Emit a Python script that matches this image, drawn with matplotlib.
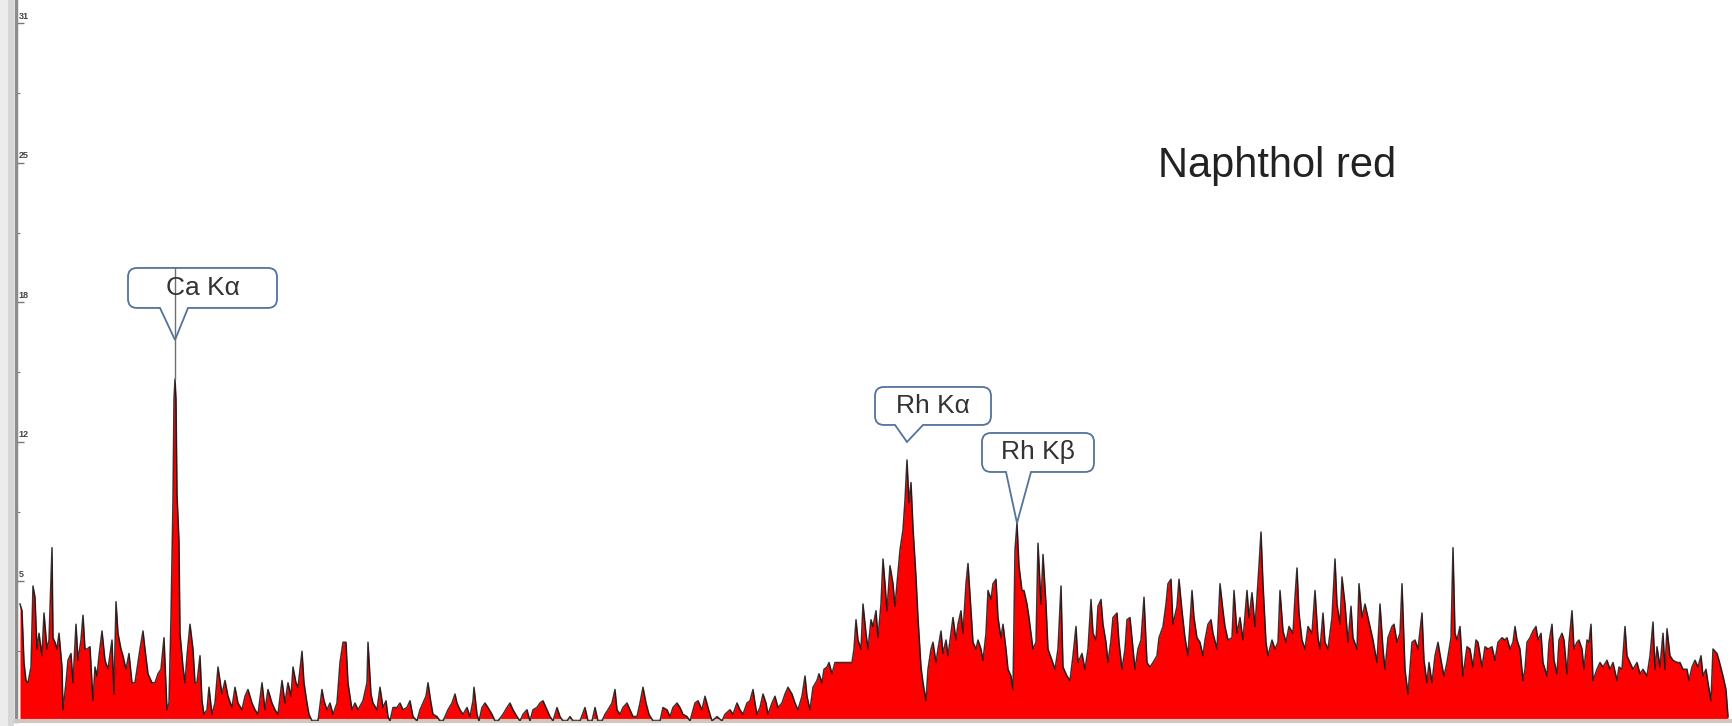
import numpy as np
import matplotlib
matplotlib.use("Agg")
import matplotlib.pyplot as plt
from matplotlib.path import Path
from matplotlib.patches import PathPatch, Rectangle
from matplotlib.lines import Line2D
from matplotlib.transforms import IdentityTransform

plt.rcParams['font.family'] = ['Liberation Sans', 'DejaVu Sans']

# XRF spectrum (channel, counts) in five stretches
ch_a = [20, 22, 24, 26, 28, 31, 33, 35, 37, 39, 42, 44, 47, 49, 52, 53, 55, 57, 59, 62,
        63, 66, 68, 71, 73, 76, 78, 81, 83, 85, 87, 90, 93, 95, 97, 99, 102, 105, 108, 112,
        114, 116, 118, 121, 123, 126, 129, 132, 135, 137, 140, 143, 145, 148, 152, 155, 158, 161, 164, 167,
        169, 171, 173, 174, 175, 176, 177, 179, 180, 183, 185, 187, 190, 193, 195, 197, 200, 202, 204, 207,
        209, 212, 215, 218, 222, 225, 228, 232, 235, 238, 242, 245, 248, 252, 255, 258, 262, 265, 268, 272,
        275, 278, 282, 285, 288, 291, 293, 296, 298, 302, 304, 307, 309, 312, 315, 318, 322, 324, 327, 330,
        333, 337, 340, 343, 346, 348]
cnt_a = [5.2, 4.9, 2.6, 1.8, 1.7, 2.4, 6.0, 5.5, 3.2, 3.9, 2.9, 4.8, 3.2, 3.6, 7.7, 3.7, 3.5, 3.2, 3.9, 2.4,
         0.5, 1.7, 2.7, 3.0, 1.7, 4.3, 2.7, 3.6, 4.7, 3.2, 3.2, 3.3, 0.9, 2.4, 2.0, 2.9, 4.0, 2.7, 2.3, 3.6,
         1.2, 5.3, 3.9, 3.2, 2.9, 2.3, 3.0, 1.7, 1.7, 2.3, 3.2, 4.0, 3.2, 2.1, 1.7, 1.7, 2.1, 2.3, 3.7, 0.5,
         0.8, 4.6, 9.8, 14.3, 15.2, 14.3, 10.1, 8.0, 3.9, 2.4, 1.7, 2.9, 4.3, 3.2, 1.7, 1.7, 2.9, 0.9, 0.3, 0.5,
         1.5, 0.3, 0.8, 2.4, 1.2, 1.8, 1.1, 0.6, 1.5, 0.8, 0.5, 1.1, 1.4, 0.8, 0.5, 0.3, 1.7, 0.5, 1.4, 0.8,
         0.5, 0.3, 1.8, 0.8, 1.7, 1.1, 2.4, 1.7, 1.5, 3.1, 1.7, 0.8, 0.3, 0, 0, 0, 1.4, 0.9, 0.5, 0.8,
         0.3, 0.8, 2.6, 3.5, 3.5, 1.7]

ch_b = [352, 355, 358, 363, 367, 368, 371, 373, 377, 380, 383, 386, 388, 390, 393, 397, 400, 403, 407, 410,
        413, 417, 420, 423, 426, 428, 431, 433, 437, 440, 443, 448, 452, 455, 457, 460, 463, 467, 470, 473,
        474, 477, 479, 482, 485, 488, 492, 495, 498, 503, 507, 510, 513, 517, 520, 523, 527, 530, 533, 537,
        540, 543, 547, 550, 553, 557, 560, 563, 567, 570, 573, 577, 580, 585, 588, 592, 595, 598, 602, 605,
        608, 612, 615, 617, 620, 623, 627, 630, 633, 637, 640, 643, 646, 649, 653, 657, 660, 663, 667, 670,
        673, 677, 680, 683, 687]
cnt_b = [0.5, 0.8, 0.5, 0.9, 1.7, 3.5, 1.2, 0.8, 0.5, 1.5, 0.6, 0.9, 0.2, 0, 0.6, 0.6, 0.8, 0.5, 0.6, 0.9,
         0.2, 0, 0.5, 0.8, 1.1, 1.7, 0.8, 0.3, 0.2, 0, 0, 0.5, 0.8, 1.2, 0.8, 0.5, 0.3, 0.6, 0.2, 0.9,
         1.5, 0.3, 0, 0.6, 0.8, 0.6, 0.3, 0, 0, 0.3, 0.6, 0.8, 0.5, 0.2, 0, 0.3, 0.5, 0, 0.5, 0.6,
         0.8, 0.9, 0.5, 0.2, 0, 0.6, 0.2, 0, 0, 0.2, 0, 0, 0, 0.6, 0, 0, 0.6, 0, 0, 0.3,
         0.5, 0.8, 1.4, 0.5, 0.3, 0.6, 0.8, 0.5, 0.2, 0.2, 0.8, 1.5, 0.8, 0.3, 0, 0, 0, 0.6, 0.5, 0.2,
         0.6, 0.8, 0.6, 0.3, 0.2]

ch_c = [690, 695, 698, 702, 705, 708, 712, 717, 722, 725, 730, 733, 737, 740, 743, 747, 750, 753, 755, 757,
        760, 763, 766, 768, 772, 775, 778, 782, 785, 788, 792, 795, 798, 802, 805, 807, 810, 813, 817, 819,
        822, 824, 827, 829, 832, 835, 838, 842, 845, 848, 852, 854, 856, 858, 861, 863, 866, 868, 871, 873,
        876, 878, 881, 883, 885, 887, 890, 893, 895, 897, 900, 903, 905, 907, 909, 911, 913, 916, 918, 921,
        923, 926, 928, 931, 933, 936, 938, 941, 943, 946, 948, 951, 953, 956, 958, 961, 963, 966, 968, 971,
        973, 976, 978, 981, 983, 986, 988, 991, 993, 996, 998, 1001, 1003, 1006, 1008, 1011, 1013, 1015, 1017, 1019,
        1022, 1024, 1027, 1029]
cnt_c = [0, 0.8, 0.9, 0.5, 1.1, 0.6, 0, 0.2, 0, 0.3, 0.5, 0.3, 0.8, 0.5, 0.3, 0.8, 0.9, 1.4, 0.8, 0.3,
         0.6, 1.2, 0.8, 0.3, 0.8, 1.1, 0.6, 0.8, 1.2, 1.5, 1.2, 0.8, 0.5, 1.1, 2.0, 1.1, 0.5, 1.5, 1.8, 2.1,
         1.7, 2.3, 2.4, 2.6, 2.1, 2.6, 2.6, 2.6, 2.6, 2.6, 2.6, 3.2, 4.5, 3.6, 3.2, 5.2, 3.9, 3.2, 4.5, 4.2,
         4.9, 3.7, 5.2, 7.2, 6.1, 4.9, 6.9, 6.1, 5.1, 6.1, 7.6, 8.5, 9.8, 11.6, 9.7, 10.6, 8.6, 6.4, 4.6, 2.4,
         1.7, 0.9, 2.3, 3.2, 3.5, 2.6, 3.2, 4.0, 3.0, 3.6, 2.9, 3.9, 4.6, 3.6, 4.3, 4.9, 3.9, 6.1, 7.0, 4.9,
         3.5, 3.2, 3.6, 3.2, 2.7, 3.9, 5.8, 5.4, 6.1, 6.3, 4.6, 3.7, 4.3, 3.2, 2.3, 2.0, 1.4, 7.6, 8.8, 6.9,
         5.8, 5.8, 5.2, 4.6]

ch_d = [1033, 1036, 1038, 1041, 1043, 1046, 1048, 1052, 1055, 1058, 1061, 1063, 1067, 1070, 1073, 1076, 1078, 1082, 1085, 1088,
        1091, 1093, 1096, 1098, 1101, 1103, 1106, 1108, 1111, 1113, 1117, 1119, 1122, 1125, 1127, 1130, 1133, 1135, 1138, 1141,
        1144, 1147, 1150, 1153, 1157, 1159, 1163, 1166, 1168, 1171, 1173, 1177, 1179, 1182, 1185, 1188, 1192, 1194, 1197, 1200,
        1203, 1205, 1208, 1211, 1213, 1217, 1220, 1223, 1225, 1228, 1232, 1234, 1237, 1240, 1243, 1247, 1249, 1252, 1255, 1257,
        1259, 1261, 1263, 1266, 1268, 1272, 1275, 1278, 1280, 1283, 1286, 1289, 1293, 1295, 1297, 1299, 1302, 1305, 1308, 1312,
        1315, 1318, 1320, 1323, 1325, 1328, 1332, 1335, 1337, 1340, 1342, 1345, 1348, 1351, 1353, 1357, 1359, 1362, 1365, 1368]
cnt_d = [3.2, 3.5, 7.9, 5.2, 7.4, 5.2, 3.2, 2.7, 2.3, 3.2, 6.0, 2.4, 2.0, 1.8, 2.9, 4.2, 2.6, 3.0, 2.3, 3.2,
         5.4, 3.9, 3.6, 5.1, 5.4, 4.3, 3.5, 2.6, 3.6, 4.6, 4.8, 3.5, 2.3, 3.2, 4.5, 4.6, 3.2, 2.3, 3.2, 3.6,
         5.5, 2.6, 2.4, 2.6, 2.9, 3.7, 4.2, 5.2, 6.1, 6.3, 4.3, 5.1, 6.3, 4.9, 3.7, 2.9, 5.8, 4.6, 3.7, 3.5,
         2.9, 3.6, 4.3, 4.5, 3.9, 3.2, 6.1, 4.9, 4.2, 3.6, 3.7, 5.8, 3.9, 4.6, 3.6, 5.8, 4.6, 5.7, 4.2, 5.5,
         6.9, 8.4, 6.1, 3.5, 2.9, 3.6, 3.2, 3.5, 5.8, 4.0, 3.5, 4.2, 3.9, 5.5, 6.8, 4.8, 3.6, 3.2, 4.2, 3.9,
         5.8, 3.7, 3.2, 4.8, 3.5, 3.2, 4.6, 7.2, 5.2, 4.3, 6.4, 5.2, 3.5, 5.1, 3.7, 3.2, 6.1, 4.6, 5.2, 4.6]

ch_e = [1373, 1377, 1380, 1383, 1385, 1388, 1392, 1394, 1397, 1400, 1402, 1405, 1408, 1412, 1415, 1418, 1422, 1424, 1427, 1429,
        1432, 1435, 1438, 1441, 1444, 1447, 1451, 1453, 1455, 1457, 1460, 1463, 1467, 1470, 1473, 1476, 1478, 1482, 1485, 1488,
        1492, 1495, 1498, 1502, 1505, 1507, 1510, 1513, 1515, 1517, 1520, 1523, 1525, 1527, 1530, 1533, 1536, 1538, 1541, 1543,
        1547, 1549, 1552, 1554, 1557, 1559, 1562, 1564, 1567, 1569, 1572, 1574, 1577, 1579, 1582, 1584, 1587, 1589, 1591, 1593,
        1597, 1600, 1603, 1607, 1610, 1613, 1617, 1619, 1622, 1625, 1627, 1630, 1633, 1637, 1640, 1643, 1647, 1650, 1653, 1655,
        1657, 1660, 1663, 1665, 1667, 1670, 1673, 1677, 1680, 1683, 1687, 1689, 1692, 1695, 1698, 1701, 1703, 1706, 1708, 1711,
        1713, 1717, 1719, 1723, 1726, 1728]
cnt_e = [3.6, 2.6, 5.2, 3.2, 2.3, 3.7, 4.2, 4.3, 3.5, 3.9, 6.1, 2.3, 1.2, 3.5, 3.6, 3.2, 4.8, 2.7, 1.7, 2.6,
         1.7, 2.9, 3.5, 2.7, 2.0, 2.6, 3.7, 7.7, 3.9, 3.6, 4.2, 2.0, 3.3, 3.2, 2.4, 3.6, 3.5, 2.4, 3.3, 3.2,
         3.3, 2.7, 3.5, 3.7, 3.6, 3.7, 3.2, 3.5, 4.2, 3.6, 3.2, 1.8, 2.3, 3.5, 3.7, 4.0, 4.2, 3.6, 3.9, 2.6,
         2.0, 3.5, 4.3, 2.7, 2.1, 3.6, 3.9, 3.6, 2.1, 3.5, 4.9, 3.2, 3.5, 3.6, 3.2, 2.3, 3.6, 3.5, 4.3, 1.8,
         2.3, 2.6, 2.4, 2.7, 2.3, 2.6, 1.8, 2.4, 2.3, 4.2, 2.9, 2.6, 2.3, 2.6, 2.1, 2.3, 2.0, 2.9, 4.4, 2.3,
         3.3, 2.4, 3.9, 2.3, 4.1, 2.9, 2.7, 2.6, 2.6, 2.3, 2.3, 1.8, 2.4, 2.7, 2.4, 2.9, 2.0, 2.3, 1.7, 0.9,
         3.2, 3.0, 2.7, 2.0, 1.4, 0.2]

# peak labels
line_names = ['Ca Kα', 'Rh Kα', 'Rh Kβ']
line_ch = [175, 907, 1017]

# y axis labels as printed by the instrument software
tick_vals = [6.2, 12.4, 18.6, 24.8, 31.0]
tick_labels = ['5', '12', '18', '25', '31']

title = 'Naphthol red'

channels = np.array(ch_a + ch_b + ch_c + ch_d + ch_e)
counts = np.array(cnt_a + cnt_b + cnt_c + cnt_d + cnt_e)

W, H = 1732, 726
fig = plt.figure(figsize=(W / 100, H / 100), dpi=100)
fig.patch.set_facecolor('white')
ax = fig.add_axes([16 / W, 5 / H, 1 - 16 / W, 721 / H])
ax.set_xlim(16, 1732)
ax.set_ylim(0, 32.04)

ax.fill_between(channels, counts, 0, color='#ff0000', lw=0, zorder=2)
ax.plot(channels, counts, color='#111111', lw=1.1, alpha=0.85, zorder=3)

# axes frame like the instrument window
for side in ['top', 'right']:
    ax.spines[side].set_visible(False)
ax.spines['left'].set_color('#8c8c8c')
ax.spines['left'].set_linewidth(2.5)
ax.spines['bottom'].set_color('#cfc8c0')
ax.spines['bottom'].set_linewidth(3)
fig.patches.append(Rectangle((0, 0), 8 / W, 1, transform=fig.transFigure,
                             facecolor='#ececec', edgecolor='none', zorder=0))
fig.patches.append(Rectangle((8 / W, 0), 6 / W, 1, transform=fig.transFigure,
                             facecolor='#d6d6d6', edgecolor='none', zorder=0))

ax.set_xticks([])
ax.set_yticks(tick_vals)
ax.set_yticks([v - 3.1 for v in tick_vals], minor=True)
ax.tick_params(axis='y', which='both', direction='in', colors='#777777',
               labelleft=False)
ax.tick_params(axis='y', which='major', length=6, width=1)
ax.tick_params(axis='y', which='minor', length=3, width=0.8)
for v, lab in zip(tick_vals, tick_labels):
    ax.annotate(lab, xy=(0, v), xycoords=('axes fraction', 'data'),
                xytext=(2, 2), textcoords='offset points', fontsize=6.5,
                fontweight='bold', color='#444444', ha='left', va='bottom')

ax.text(0.735, 0.77, title, transform=ax.transAxes, fontsize=30,
        color='#222222', ha='center', va='center')


# speech-bubble callouts: offsets in pixels relative to the pointer tip
bubbles = [
    dict(gap=39, box=(-47, 102, -72, -32), base=(-15, 13), stem=True),
    dict(gap=18, box=(-32, 84, -55, -17), base=(-12, 16), stem=False),
    dict(gap=0, box=(-35, 77, -90, -51), base=(-11, 14), stem=False),
]


def bubble(ax, x, y, label, gap, box, base, stem, r=9):
    px, py = ax.transData.transform((x, y))
    tx, ty = px, py + gap
    L, R, T, B = box
    left, right = tx + L, tx + R
    top, bot = ty - T, ty - B
    bl, br = base
    verts = [(tx + bl, bot), (tx, ty), (tx + br, bot),
             (right - r, bot), (right, bot), (right, bot + r),
             (right, top - r), (right, top), (right - r, top),
             (left + r, top), (left, top), (left, top - r),
             (left, bot + r), (left, bot), (left + r, bot),
             (tx + bl, bot)]
    codes = [Path.MOVETO, Path.LINETO, Path.LINETO,
             Path.LINETO, Path.CURVE3, Path.CURVE3,
             Path.LINETO, Path.CURVE3, Path.CURVE3,
             Path.LINETO, Path.CURVE3, Path.CURVE3,
             Path.LINETO, Path.CURVE3, Path.CURVE3,
             Path.CLOSEPOLY]
    patch = PathPatch(Path(verts, codes), transform=IdentityTransform(),
                      facecolor='white', edgecolor='#52739c', lw=1.3, zorder=5)
    ax.add_patch(patch)
    ax.annotate(label, xy=(x, y), xytext=((L + R) / 2, gap - (T + B) / 2),
                textcoords='offset pixels', ha='center', va='center',
                fontsize=19, color='#333333', zorder=7)
    if stem:
        ax.add_line(Line2D([tx, tx], [py, top], transform=IdentityTransform(),
                           color='#707070', lw=1, zorder=6))


for name, c, opts in zip(line_names, line_ch, bubbles):
    peak = counts[channels == c][0]
    bubble(ax, c, peak, name, **opts)

fig.savefig('out.png', dpi=100)
